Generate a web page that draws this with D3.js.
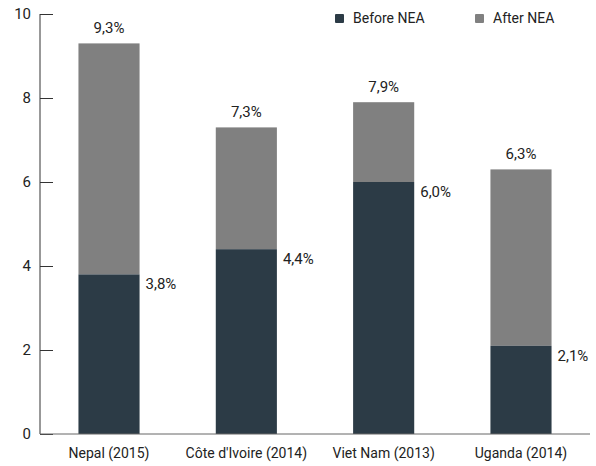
<html>
<head>
  <meta charset="utf-8">
  <script src="https://d3js.org/d3.v7.min.js"></script>
  <style>
    body { margin: 0; background: #fff; }
    text { font-family: Roboto, "Liberation Sans", sans-serif; fill: #222; }
  </style>
  <script>
    var countries = ["Nepal (2015)", "Côte d'Ivoire (2014)", "Viet Nam (2013)", "Uganda (2014)"];
    var beforeNEA = [3.8, 4.4, 6.0, 2.1];
    var afterNEA = [9.3, 7.3, 7.9, 6.3];
    var yTicks = [0, 2, 4, 6, 8, 10];
    var seriesNames = ["Before NEA", "After NEA"];

    function makeChart() {
      var svg = d3.select("#chart");
      var colBefore = "#2c3b46", colAfter = "#808080";

      var scX = d3.scaleBand().domain(countries).range([40, 590])
          .paddingInner(0.555).paddingOuter(0.28);
      var scY = d3.scaleLinear().domain([0, 10]).range([434, 14]);

      var data = countries.map(function (c, i) {
        return { name: c, before: beforeNEA[i], after: afterNEA[i] };
      });

      // bars: after (total) behind, before on top
      var g = svg.append("g");
      g.selectAll("rect.after").data(data).enter().append("rect")
          .attr("x", d => scX(d.name)).attr("width", scX.bandwidth())
          .attr("y", d => scY(d.after)).attr("height", d => scY(d.before) - scY(d.after))
          .attr("fill", colAfter);
      g.selectAll("rect.before").data(data).enter().append("rect")
          .attr("x", d => scX(d.name)).attr("width", scX.bandwidth())
          .attr("y", d => scY(d.before)).attr("height", d => scY(0) - scY(d.before))
          .attr("fill", colBefore);

      var fmt = v => v.toFixed(1).replace(".", ",") + "%";
      g.selectAll("text.tot").data(data).enter().append("text")
          .attr("x", d => scX(d.name) + scX.bandwidth() / 2)
          .attr("y", d => scY(d.after) - 10)
          .attr("text-anchor", "middle").attr("font-size", 15)
          .text(d => fmt(d.after));
      g.selectAll("text.bef").data(data).enter().append("text")
          .attr("x", d => scX(d.name) + scX.bandwidth() + 6)
          .attr("y", d => scY(d.before) + 15)
          .attr("font-size", 15)
          .text(d => fmt(d.before));

      // y axis, ticks pointing inward
      var yAx = svg.append("g").attr("transform", "translate(40,0)")
          .call(d3.axisRight(scY).tickValues(yTicks).tickSize(13).tickFormat(d3.format("d")));
      yAx.select(".domain").attr("stroke", "#333").attr("d", "M0," + scY(10) + "V" + scY(0));
      yAx.selectAll(".tick line").attr("stroke", "#333");
      yAx.selectAll(".tick text").attr("x", -9).attr("text-anchor", "end")
          .attr("font-size", 15).attr("font-family", "Roboto, sans-serif").attr("fill", "#222");

      // x axis
      var xAx = svg.append("g").attr("transform", "translate(0," + scY(0) + ")")
          .call(d3.axisBottom(scX).tickSize(0).tickPadding(14));
      xAx.select(".domain").attr("stroke", "#666").attr("d", "M40,0H590");
      xAx.selectAll(".tick text").attr("font-size", 14)
          .attr("font-family", "Roboto, sans-serif").attr("fill", "#222");

      // legend
      var leg = svg.append("g").selectAll("g").data(seriesNames).enter().append("g")
          .attr("transform", (d, i) => "translate(" + (335 + i * 140) + ",14)");
      leg.append("rect").attr("width", 9).attr("height", 9).attr("rx", 1)
          .attr("fill", (d, i) => i === 0 ? colBefore : colAfter);
      leg.append("text").attr("x", 18).attr("y", 9).attr("font-size", 14).text(d => d);
    }
  </script>
</head>
<body onload="makeChart()">
  <svg id="chart" width="596" height="466"></svg>
</body>
</html>
